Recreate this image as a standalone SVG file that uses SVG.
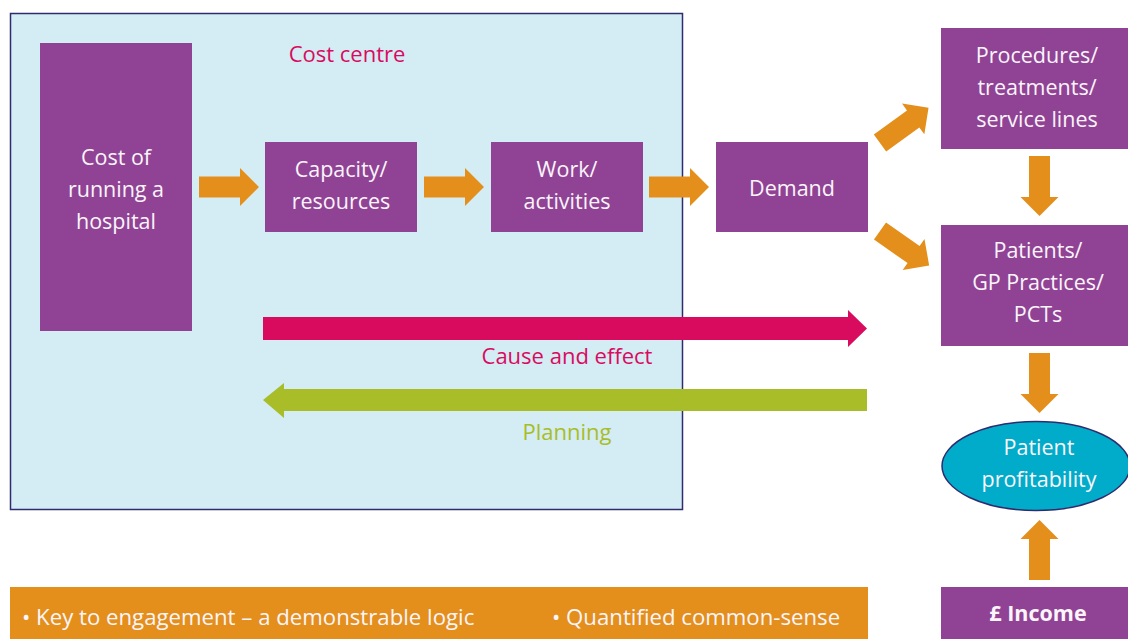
<svg xmlns="http://www.w3.org/2000/svg" width="1128" height="639" viewBox="0 0 1128 639">
<defs>
<style>
.box{fill:#904394}
.t{font-family:"Open Sans","Noto Sans","Liberation Sans",sans-serif;font-size:21.5px;fill:#fbf5fb;text-anchor:middle}
.ar{fill:#e48f1b}
.lbl{font-family:"Open Sans","Noto Sans","Liberation Sans",sans-serif;font-size:22px;text-anchor:middle}
.key{font-family:"Open Sans","Noto Sans","Liberation Sans",sans-serif;font-size:22.2px;fill:#fbf5fb;text-anchor:start}
</style>
<path id="harrow" d="M0,-10.5 H41 V-19 L60,0 L41,19 V10.5 H0 Z"/>
</defs>
<rect width="1128" height="639" fill="#ffffff"/>
<g id="cost-centre">
<rect x="10.5" y="13.5" width="672" height="496" fill="#d4ecf3" stroke="#2e2c6e" stroke-width="1.5"/>
<text class="lbl" x="347" y="62" fill="#d90b5f">Cost centre</text>
</g>
<g id="cost-running">
<rect class="box" x="40" y="43" width="152" height="288"/>
<text class="t" x="116" y="165">Cost of</text>
<text class="t" x="116" y="197">running a</text>
<text class="t" x="116" y="229">hospital</text>
</g>
<g id="capacity">
<rect class="box" x="265" y="142" width="152" height="90"/>
<text class="t" x="341" y="177">Capacity/</text>
<text class="t" x="341" y="209">resources</text>
</g>
<g id="work">
<rect class="box" x="491" y="142" width="152" height="90"/>
<text class="t" x="567" y="177">Work/</text>
<text class="t" x="567" y="209">activities</text>
</g>
<g id="demand">
<rect class="box" x="716" y="142" width="152" height="90"/>
<text class="t" x="792" y="196">Demand</text>
</g>
<g id="procedures">
<rect class="box" x="941" y="28" width="187" height="121"/>
<text class="t" x="1037" y="63">Procedures/</text>
<text class="t" x="1037" y="95">treatments/</text>
<text class="t" x="1037" y="127">service lines</text>
</g>
<g id="patients">
<rect class="box" x="941" y="225" width="187" height="121"/>
<text class="t" x="1038" y="258">Patients/</text>
<text class="t" x="1038" y="290">GP Practices/</text>
<text class="t" x="1038" y="322">PCTs</text>
</g>
<g id="profitability">
<ellipse cx="1036" cy="466" rx="94" ry="44.5" fill="#00acc9" stroke="#2e2c6e" stroke-width="1.5"/>
<text class="t" x="1039" y="455">Patient</text>
<text class="t" x="1039" y="487">profitability</text>
</g>
<g id="income">
<rect class="box" x="941" y="587" width="187" height="52"/>
<text class="t" x="1038" y="621" style="font-weight:bold">£ Income</text>
</g>
<g id="key-bar">
<rect x="10" y="587" width="858" height="52" fill="#e48f1b"/>
<text class="key" x="22" y="625">• Key to engagement – a demonstrable logic</text>
<text class="key" x="552" y="625">• Quantified common-sense</text>
</g>
<g id="connectors">
<use href="#harrow" class="ar" x="199" y="187"/>
<use href="#harrow" class="ar" x="424" y="187"/>
<use href="#harrow" class="ar" x="649" y="187"/>
<use href="#harrow" class="ar" transform="translate(880,143) rotate(-36)"/>
<use href="#harrow" class="ar" transform="translate(880,231) rotate(35)"/>
<use href="#harrow" class="ar" transform="translate(1039.5,156) rotate(90)"/>
<use href="#harrow" class="ar" transform="translate(1039.5,353) rotate(90)"/>
<use href="#harrow" class="ar" transform="translate(1039.5,580) rotate(-90)"/>
<path d="M263,317 H848 V310 L867,328.5 L848,347 V340 H263 Z" fill="#d90b5f"/>
<path d="M867,389 H284 V383 L263,400 L284,418 V411 H867 Z" fill="#a8bd27"/>
<text class="lbl" x="567" y="364" fill="#d90b5f">Cause and effect</text>
<text class="lbl" x="567" y="440" fill="#a8bd27">Planning</text>
</g>
</svg>
